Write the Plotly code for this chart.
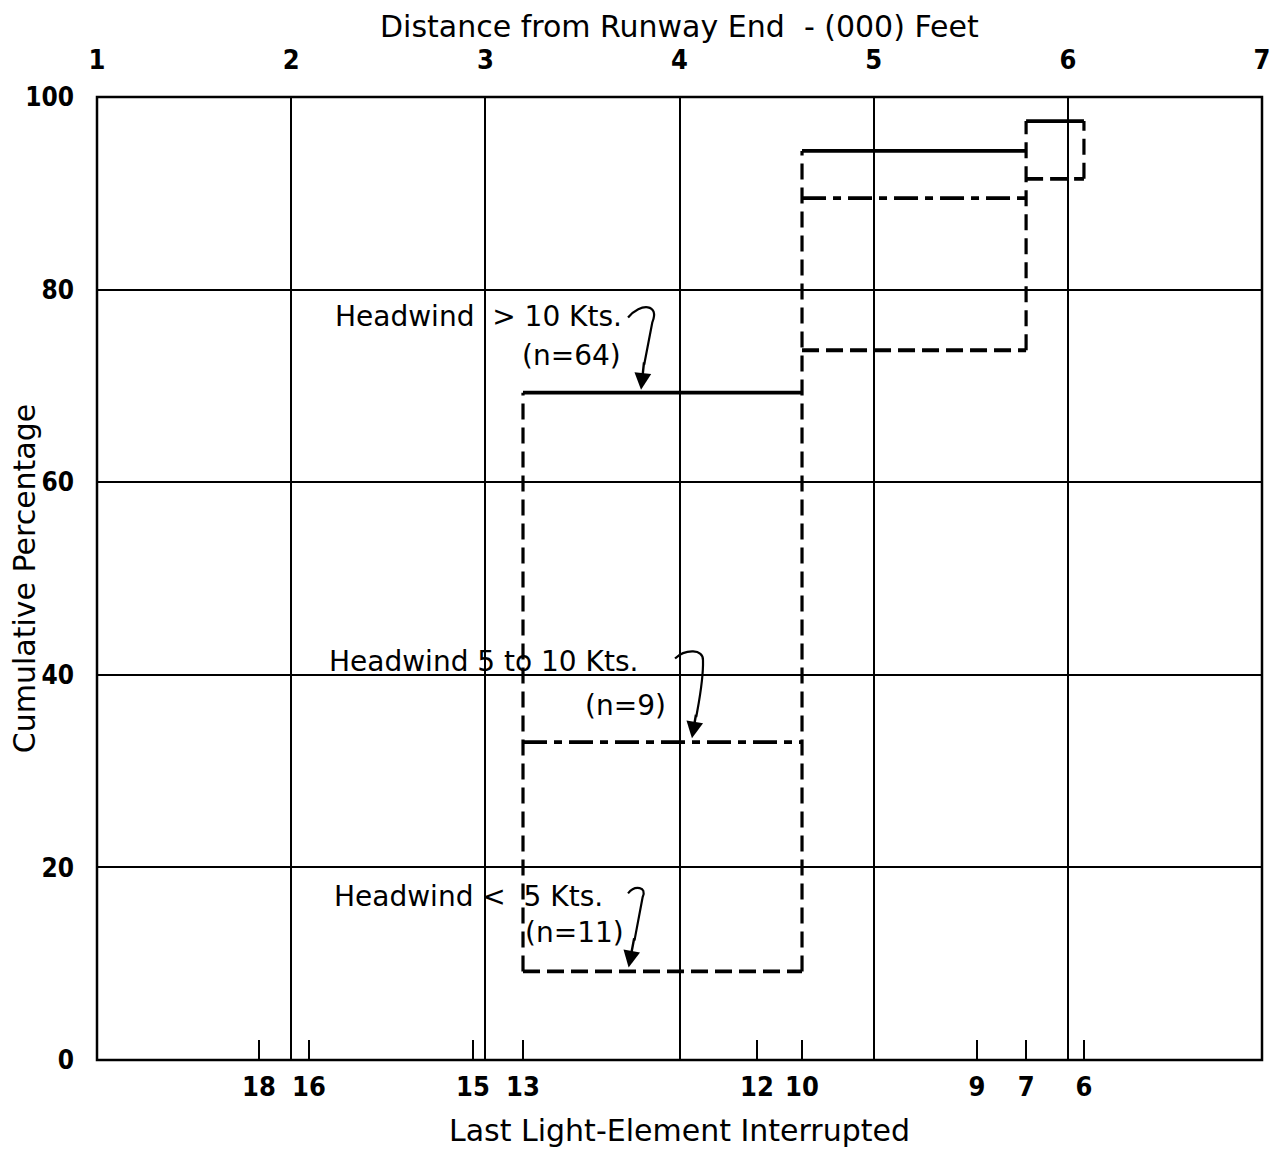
import plotly.graph_objects as go

# Distance scale (thousands of feet) on the top axis
distance_ticks = [1, 2, 3, 4, 5, 6, 7]

# Light elements and their distance from the runway end (000 ft)
light_elements = [18, 16, 15, 13, 12, 10, 9, 7, 6]
element_kft = [1.834, 2.092, 2.936, 3.194, 4.399, 4.631, 5.532, 5.785, 6.083]

# Cumulative percentage steps: value held from one element to the next
gt10_elements = [13, 10, 7, 6]
gt10_pct = [69.3, 94.4, 97.5]

mid_elements = [13, 10, 7]
mid_pct = [33.0, 89.5]

lt5_elements = [13, 10, 7, 6]
lt5_pct = [9.2, 73.7, 91.5]

pos = dict(zip(light_elements, element_kft))

series = [
    (gt10_elements, gt10_pct, "solid"),
    (mid_elements, mid_pct, "24px,7px,8px,7px"),
    (lt5_elements, lt5_pct, "17px,7px"),
]

fig = go.Figure()

# horizontal treads of each step curve
for elems, pct, dash in series:
    xs, ys = [], []
    for i, v in enumerate(pct):
        xs += [pos[elems[i]], pos[elems[i + 1]], None]
        ys += [v, v, None]
    fig.add_trace(go.Scatter(x=xs, y=ys, mode="lines", xaxis="x", yaxis="y",
                             line=dict(color="black", width=3.8, dash=dash),
                             hoverinfo="skip", showlegend=False))

# dashed risers spanning all curves at each step position
levels = {}
for elems, pct, _ in series:
    for i, v in enumerate(pct):
        for e in (elems[i], elems[i + 1]):
            levels.setdefault(e, []).append(v)
vx, vy = [], []
for e, vals in levels.items():
    vx += [pos[e], pos[e], None]
    vy += [min(vals), max(vals), None]
fig.add_trace(go.Scatter(x=vx, y=vy, mode="lines", xaxis="x", yaxis="y",
                         line=dict(color="black", width=3.2, dash="16px,8px"),
                         hoverinfo="skip", showlegend=False))

TEXT_FAMILY = "DejaVu Sans, Verdana, sans-serif"
label_font = dict(family=TEXT_FAMILY, size=28, color="black")
title_font = dict(family=TEXT_FAMILY, size=30, color="black")

NB = "\u00a0"
labels = [
    (2.215, 77.2, "Headwind" + NB + NB + ">" + NB + "10 Kts.", "left"),
    (3.178, 73.2, "(n=64)", "left"),
    (2.185, 41.4, "Headwind 5 to 10 Kts.", "left"),
    (3.94, 36.8, "(n=9)", "right"),
    (2.21, 17.0, "Headwind <" + NB + NB + "5 Kts.", "left"),
    (3.194, 13.2, "(n=11)", "left"),
]
annotations = []
for x, y, t, anchor in labels:
    annotations.append(dict(x=x, y=y, xref="x", yref="y", text=t, showarrow=False,
                            xanchor=anchor, yanchor="middle", font=label_font))

# axis titles for the top distance scale and the percentage scale
annotations.append(dict(x=0.5, y=1.0737, xref="paper", yref="paper", showarrow=False,
                        text="Distance from Runway End" + NB + NB + "- (000) Feet",
                        xanchor="center", yanchor="middle", font=title_font))
annotations.append(dict(x=-0.062, y=0.5, xref="paper", yref="paper", showarrow=False,
                        text="Cumulative Percentage", textangle=-90,
                        xanchor="center", yanchor="middle", font=title_font))

# curved leaders from each label to its curve
leaders = [
    "M 3.735,77.1 C 3.80,78.7 3.90,78.5 3.86,76.6 L 3.818,72.2",
    "M 3.977,41.7 C 4.03,42.7 4.125,42.7 4.121,41.5 C 4.124,39.5 4.10,37.2 4.086,35.6",
    "M 3.735,17.3 C 3.77,18.2 3.835,18.0 3.81,16.9 L 3.768,12.4",
]
shapes = [dict(type="path", path=p, xref="x", yref="y",
               line=dict(color="black", width=2.2)) for p in leaders]

# arrowheads at the end of the leaders
arrows = [(3.802, 69.6, 3.818, 72.6), (4.064, 33.4, 4.086, 36.0), (3.738, 9.6, 3.768, 12.8)]
for x, y, ax, ay in arrows:
    annotations.append(dict(x=x, y=y, ax=ax, ay=ay, xref="x", yref="y", axref="x", ayref="y",
                            text="", showarrow=True, arrowhead=2, arrowsize=1.4,
                            arrowwidth=2.4, arrowcolor="black"))

# plot frame
shapes.append(dict(type="rect", xref="paper", yref="paper", x0=0, y0=0, x1=1, y1=1,
                   line=dict(color="black", width=2.5)))

NARROW = "DejaVu Sans Condensed, Liberation Sans Narrow, sans-serif"

fig.update_layout(
    width=1270, height=1151,
    margin=dict(l=97, r=8, t=97, b=91, autoexpand=False),
    paper_bgcolor="white", plot_bgcolor="white",
    xaxis=dict(range=[1, 7], side="top", tickvals=distance_ticks,
               ticktext=[str(v) for v in distance_ticks],
               showgrid=True, gridcolor="black", gridwidth=2, zeroline=False,
               ticks="", showline=False, ticklabelstandoff=22, ticklabeloverflow="allow",
               tickfont=dict(family=NARROW, size=27, color="black", weight="bold")),
    xaxis2=dict(range=[1, 7], overlaying="x", side="bottom", anchor="y",
                tickvals=element_kft, ticktext=[str(v) for v in light_elements],
                ticks="inside", ticklen=20, tickwidth=2, tickcolor="black",
                showgrid=False, zeroline=False, showline=False, ticklabeloverflow="allow",
                tickfont=dict(family=NARROW, size=27, color="black", weight="bold"),
                ticklabelstandoff=8,
                title=dict(text="Last Light-Element Interrupted", font=title_font,
                           standoff=18)),
    yaxis=dict(range=[0, 100], tickvals=[0, 20, 40, 60, 80, 100],
               showgrid=True, gridcolor="black", gridwidth=2, zeroline=False,
               ticks="", showline=False, ticklabelstandoff=22,
               tickfont=dict(family=NARROW, size=26, color="black", weight="bold")),
    shapes=shapes,
    annotations=annotations,
)

# invisible trace so the bottom axis is rendered
fig.add_trace(go.Scatter(x=[None], y=[None], xaxis="x2", yaxis="y", showlegend=False,
                         hoverinfo="skip"))

fig.write_html("out.html")
